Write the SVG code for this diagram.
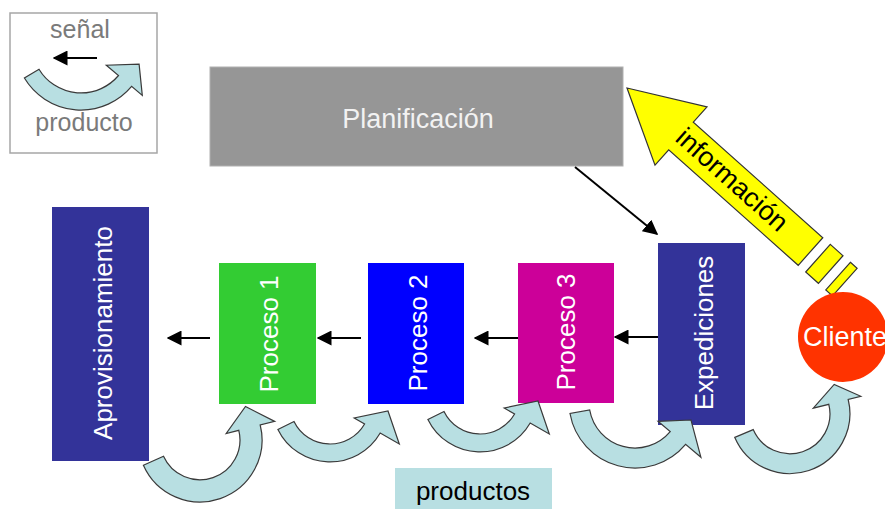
<svg xmlns="http://www.w3.org/2000/svg" width="885" height="509" viewBox="0 0 885 509">
  <defs>
    <style>
      text { font-family: "Liberation Sans", Arial, sans-serif; }
      .lbl { fill: #ffffff; font-size: 26px; text-anchor: middle; }
      .flow { fill: #b8dfe2; stroke: #3a3a3a; stroke-width: 1.2; stroke-linejoin: miter; }
      .sig { stroke: #000000; stroke-width: 2; fill: none; marker-end: url(#head); }
      .info { fill: #ffff00; stroke: #333333; stroke-width: 1.2; stroke-linejoin: miter; }
    </style>
    <marker id="head" viewBox="0 0 10 10" refX="9" refY="5" markerWidth="7.5" markerHeight="7.5" markerUnits="strokeWidth" orient="auto">
      <path d="M0,0 L10,5 L0,10 Z" fill="#000000"/>
    </marker>
  </defs>

  <rect width="885" height="509" fill="#ffffff"/>

  <!-- key: signal vs. product flow -->
  <g id="legend">
    <rect x="10" y="13" width="147" height="140" fill="#ffffff" stroke="#a6a6a6" stroke-width="1.5"/>
    <text x="80" y="38" font-size="25" fill="#7a7a7a" text-anchor="middle">señal</text>
    <line x1="97" y1="58" x2="54" y2="58" class="sig"/>
    <path class="flow" d="M24.4,78.0 A66,66 0 0 0 131.6,86.4 L142.3,95.4 L139.1,64.1 L106.3,65.2 L118.5,75.5 A49,49 0 0 1 39.0,69.2 Z"/>
    <text x="84" y="131" font-size="25" fill="#7a7a7a" text-anchor="middle">producto</text>
  </g>

  <g id="planificacion">
    <rect x="210" y="67" width="413" height="99" fill="#969696" stroke="#b0b0b0" stroke-width="1"/>
    <text x="418" y="128" font-size="27" fill="#f2f2f2" text-anchor="middle">Planificación</text>
  </g>

  <g id="aprovisionamiento">
    <rect x="52" y="207" width="97" height="254" fill="#333399"/>
    <text class="lbl" font-size="27" transform="translate(112,333) rotate(-90)">Aprovisionamiento</text>
  </g>

  <g id="proceso1">
    <rect x="219" y="263" width="97" height="141" fill="#33cc33"/>
    <text class="lbl" transform="translate(278,334) rotate(-90)">Proceso 1</text>
  </g>

  <g id="proceso2">
    <rect x="368" y="263" width="96" height="141" fill="#0000ff"/>
    <text class="lbl" transform="translate(427,333) rotate(-90)">Proceso 2</text>
  </g>

  <g id="proceso3">
    <rect x="518" y="263" width="96" height="140" fill="#cc0099"/>
    <text class="lbl" transform="translate(575,332) rotate(-90)">Proceso 3</text>
  </g>

  <g id="expediciones">
    <rect x="658" y="243" width="87" height="182" fill="#333399"/>
    <text class="lbl" font-size="25" transform="translate(713,333) rotate(-90)">Expediciones</text>
  </g>

  <!-- information flow from the customer back to planning -->
  <g id="informacion">
    <polygon class="info" points="627,88 707,106.9 693.3,122.2 822.8,237.7 798.2,265.3 668.7,149.8 655,165.1"/>
    <polygon class="info" points="830.3,244.4 843.0,255.7 818.4,283.3 805.7,272.0"/>
    <polygon class="info" points="850.4,262.3 857.1,268.3 832.5,295.9 825.8,289.9"/>
    <text x="0" y="0" font-size="27" fill="#000000" text-anchor="middle" transform="translate(726,186.5) rotate(41.7)">información</text>
  </g>

  <g id="cliente">
    <circle cx="843" cy="337" r="45" fill="#ff3300"/>
    <text x="803" y="346" font-size="27" fill="#ffffff">Cliente</text>
  </g>

  <g id="productos">
    <rect x="395" y="468" width="157" height="41" fill="#b8dfe2"/>
    <text x="473" y="500" font-size="26" fill="#000000" text-anchor="middle">productos</text>
  </g>

  <g id="connectors">
    <!-- signal arrows (upstream) -->
    <line x1="210" y1="338" x2="168" y2="338" class="sig"/>
    <line x1="361" y1="338" x2="318" y2="338" class="sig"/>
    <line x1="518" y1="338" x2="475" y2="338" class="sig"/>
    <line x1="658" y1="337" x2="615" y2="337" class="sig"/>
    <line x1="575" y1="167" x2="657" y2="234" class="sig"/>
    <!-- product flow arrows (downstream) -->
    <path class="flow" d="M143.4,465.2 A62,62 0 0 0 260.2,425.0 L274.7,421.4 L245.5,406.5 L226.2,433.5 L238.8,430.3 A40,40 0 0 1 163.5,456.3 Z"/>
    <path class="flow" d="M277.9,429.4 A58,58 0 0 0 380.2,433.0 L399.3,444.0 L388,411 L354.2,418.0 L364.6,424.0 A40,40 0 0 1 294.0,421.5 Z"/>
    <path class="flow" transform="translate(150,-10)" d="M277.9,429.4 A58,58 0 0 0 380.2,433.0 L399.3,444.0 L388,411 L354.2,418.0 L364.6,424.0 A40,40 0 0 1 294.0,421.5 Z"/>
    <path class="flow" d="M570.0,413.5 A66,66 0 0 0 685.6,444.4 L700.9,457.3 L691,420 L658.0,421.3 L670.2,431.6 A46,46 0 0 1 589.7,410.0 Z"/>
    <path class="flow" d="M734.8,437.4 A60,60 0 0 0 848.2,399.5 L860.8,396.3 L834.2,384.4 L813.3,408.2 L828.8,404.3 A40,40 0 0 1 753.2,429.6 Z"/>
  </g>
</svg>
